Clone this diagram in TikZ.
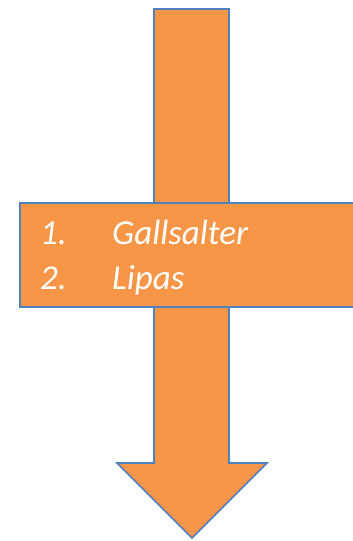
\documentclass[tikz,border=0pt]{standalone}
\usepackage{fontspec}
\setmainfont{Carlito}
\begin{document}
\begin{tikzpicture}[x=1pt,y=-1pt,
  shapefill/.style={fill=orangeF, draw=blueB, line width=1.6pt, line join=miter},
  itemtext/.style={text=white, font=\itshape\fontsize{35}{42}\selectfont, anchor=base west, inner sep=0pt}]
\definecolor{orangeF}{HTML}{F79646}
\definecolor{blueB}{HTML}{4F81BD}
\useasboundingbox (0,0) rectangle (353,541);
\begin{scope}
\clip (0,0) rectangle (353,541);
\draw[shapefill] (154,9) -- (229,9) -- (229,463) -- (267,463) -- (192,538) -- (117,463) -- (154,463) -- cycle;
\node[shapefill, rectangle, minimum width=350pt, minimum height=104pt, anchor=north west, inner sep=0pt] (box) at (19,202) {};
\end{scope}
\node[itemtext] (n1) at (40,244) {1.};
\node[itemtext] (t1) at (112,244) {Gallsalter};
\node[itemtext] (n2) at (40,289) {2.};
\node[itemtext] (t2) at (112,289) {Lipas};
\end{tikzpicture}
\end{document}
